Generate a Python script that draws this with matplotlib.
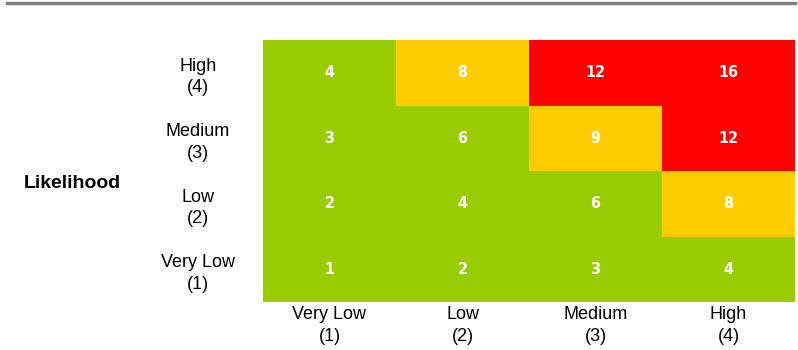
import numpy as np
import matplotlib.pyplot as plt
from matplotlib.colors import ListedColormap
from matplotlib.lines import Line2D

impact_labels = ["Very Low\n(1)", "Low\n(2)", "Medium\n(3)", "High\n(4)"]
likelihood_labels = ["Very Low\n(1)", "Low\n(2)", "Medium\n(3)", "High\n(4)"]

# rows from bottom (Very Low) to top (High)
scores = [
    [1, 2, 3, 4],
    [2, 4, 6, 8],
    [3, 6, 9, 12],
    [4, 8, 12, 16],
]
# 0 = green, 1 = amber, 2 = red
levels = [
    [0, 0, 0, 0],
    [0, 0, 0, 1],
    [0, 0, 1, 2],
    [0, 1, 2, 2],
]
level_colors = ["#99CC00", "#FFCC00", "#FF0000"]

fig = plt.figure(figsize=(7.98, 3.5), dpi=100)
ax = fig.add_axes([263 / 798, 48 / 350, 532 / 798, 262 / 350])

cmap = ListedColormap(level_colors)
ax.pcolormesh(np.array(levels), cmap=cmap, vmin=-0.5, vmax=2.5)

for r in range(4):
    for c in range(4):
        ax.text(c + 0.5, r + 0.5, str(scores[r][c]), ha="center", va="center",
                color="white", fontsize=11.5, fontweight="bold",
                fontstretch="condensed", family="DejaVu Sans")

ax.set_xlim(0, 4)
ax.set_ylim(0, 4)
ax.set_xticks(np.arange(4) + 0.5)
ax.set_xticklabels(impact_labels, fontsize=13, family="Liberation Sans", linespacing=1.35)
ax.set_yticks(np.arange(4) + 0.5)
ax.set_yticklabels(likelihood_labels, fontsize=13, family="Liberation Sans",
                   linespacing=1.35, ha="center")
ax.tick_params(length=0)
ax.tick_params(axis="x", pad=3)
ax.tick_params(axis="y", pad=47)
for s in ax.spines.values():
    s.set_visible(False)

fig.text(72 / 798, 1 - 184 / 350, "Likelihood", ha="center", va="center",
         fontsize=14, fontweight="bold", family="Liberation Sans")

fig.add_artist(Line2D([7 / 798, 795 / 798], [1 - 3 / 350, 1 - 3 / 350],
                      color="#808080", linewidth=2.5))

fig.savefig("out.png", dpi=100)
